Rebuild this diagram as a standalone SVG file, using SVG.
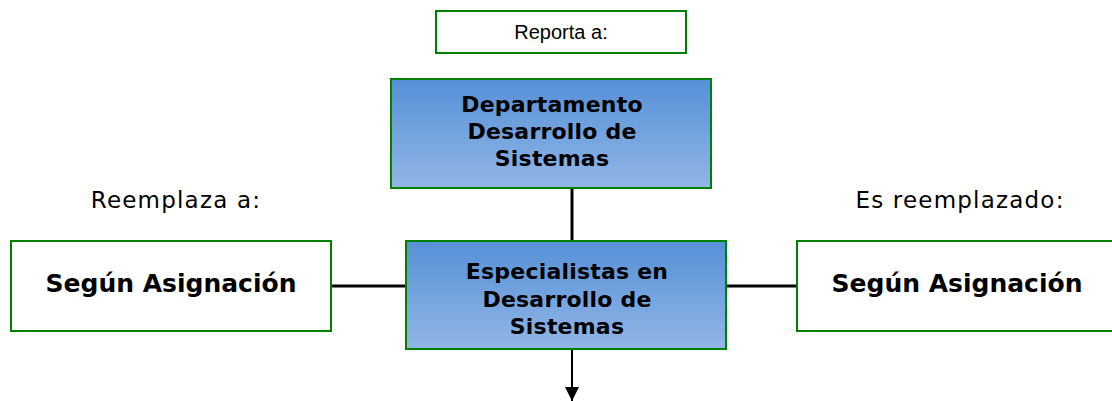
<svg xmlns="http://www.w3.org/2000/svg" width="1112" height="401" viewBox="0 0 1112 401">
<defs>
<linearGradient id="blueGrad" x1="0" y1="0" x2="0" y2="1">
<stop offset="0" stop-color="#5590d7"/>
<stop offset="1" stop-color="#92b6e6"/>
</linearGradient>
<marker id="arrow" markerWidth="14" markerHeight="14" refX="14" refY="7" orient="auto" markerUnits="userSpaceOnUse">
<path d="M0,0 L14,7 L0,14 Z" fill="#000"/>
</marker>
<style>
.box{fill:#fff;stroke:#008000;stroke-width:2}
.bbox{fill:url(#blueGrad);stroke:#008000;stroke-width:2}
.conn{stroke:#000;stroke-width:3;fill:none}
.bt{font-family:"DejaVu Sans",Verdana,sans-serif;font-weight:bold;font-size:22px;letter-spacing:0.2px;fill:#000;text-anchor:middle}
.sg{font-size:25px;letter-spacing:0px}
.lbl{font-family:"DejaVu Sans",Verdana,sans-serif;font-size:23px;letter-spacing:1.2px;fill:#000;text-anchor:middle}
.sm{font-family:"Liberation Sans",Arial,sans-serif;font-size:20px;fill:#000;text-anchor:middle}
</style>
</defs>
<g id="connectors">
<line class="conn" x1="572" y1="188" x2="572" y2="241"/>
<line class="conn" x1="331" y1="286" x2="406" y2="286"/>
<line class="conn" x1="726" y1="286" x2="797" y2="286"/>
<line stroke="#000" stroke-width="2" x1="572" y1="349" x2="572" y2="401" marker-end="url(#arrow)"/>
</g>
<g id="reporta">
<rect class="box" x="436" y="11" width="250" height="42"/>
<text class="sm" x="561" y="39">Reporta a:</text>
</g>
<g id="departamento">
<rect class="bbox" x="391" y="79" width="320" height="109"/>
<text class="bt" x="552" y="112">Departamento</text>
<text class="bt" x="552" y="139">Desarrollo de</text>
<text class="bt" x="552" y="166">Sistemas</text>
</g>
<g id="reemplaza-label">
<text class="lbl" x="176" y="208">Reemplaza a:</text>
</g>
<g id="es-reemplazado-label">
<text class="lbl" x="960" y="208">Es reemplazado:</text>
</g>
<g id="segun-izq">
<rect class="box" x="11" y="241" width="320" height="90"/>
<text class="bt sg" x="171" y="292">Según Asignación</text>
</g>
<g id="especialistas">
<rect class="bbox" x="406" y="241" width="320" height="108"/>
<text class="bt" x="567" y="279">Especialistas en</text>
<text class="bt" x="567" y="307">Desarrollo de</text>
<text class="bt" x="567" y="334">Sistemas</text>
</g>
<g id="segun-der">
<rect class="box" x="797" y="241" width="320" height="90"/>
<text class="bt sg" x="957" y="292">Según Asignación</text>
</g>
</svg>
